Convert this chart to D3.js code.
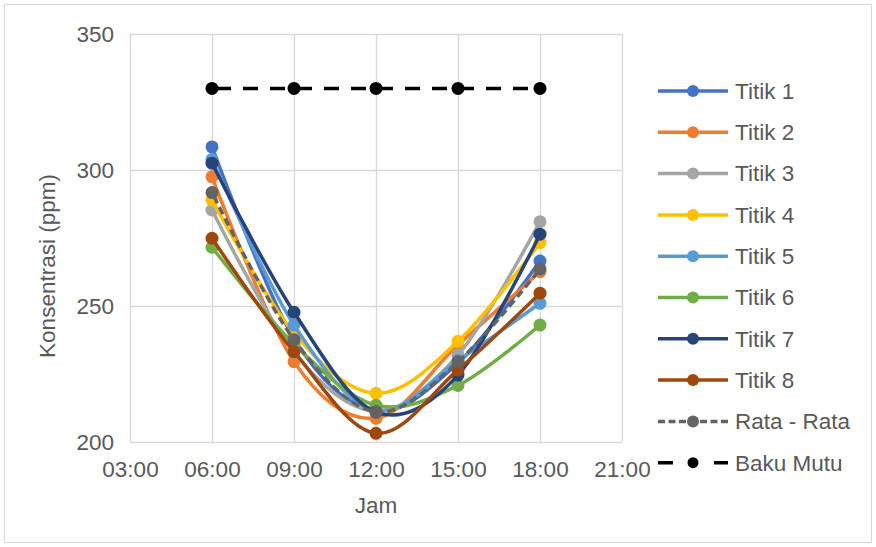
<!DOCTYPE html>
<html>
<head>
<meta charset="utf-8">
<script src="https://cdn.jsdelivr.net/npm/d3@7"></script>
<style>
html,body{margin:0;padding:0;background:#fff;}
svg{display:block;font-family:"Liberation Sans",Arial,sans-serif;}
</style>
</head>
<body>
<svg id="chart" width="876" height="547"></svg>
<script>
// ---- data ----
const hours = [6, 9, 12, 15, 18];
const xTicks = [3, 6, 9, 12, 15, 18, 21];
const xTickLabels = ["03:00", "06:00", "09:00", "12:00", "15:00", "18:00", "21:00"];
const yTicks = [200, 250, 300, 350];
const seriesNames = ["Titik 1", "Titik 2", "Titik 3", "Titik 4", "Titik 5", "Titik 6", "Titik 7", "Titik 8", "Rata - Rata", "Baku Mutu"];
const titik1 = [308.5, 238.0, 211.5, 229.0, 266.5];
const titik2 = [297.5, 229.5, 208.7, 235.7, 262.6];
const titik3 = [285.3, 233.0, 211.5, 232.0, 281.0];
const titik4 = [289.0, 240.0, 217.9, 237.0, 273.3];
const titik5 = [303.9, 243.0, 211.5, 230.0, 251.0];
const titik6 = [271.6, 236.0, 213.5, 220.8, 243.0];
const titik7 = [302.5, 247.7, 211.0, 224.6, 276.4];
const titik8 = [274.9, 233.2, 203.2, 226.5, 254.7];
const rataRata = [291.7, 237.6, 211.1, 229.5, 263.6];
const bakuMutu = [330, 330, 330, 330, 330];
const allValues = [titik1, titik2, titik3, titik4, titik5, titik6, titik7, titik8, rataRata, bakuMutu];

// ---- styles ----
const colors = ["#4472C4", "#ED7D31", "#A5A5A5", "#FFC000", "#5B9BD5", "#70AD47", "#264478", "#9E480E", "#636363", "#000000"];
const dashes = [null, null, null, null, null, null, null, null, "8,4.5", "15,12"];
const smooth = [true, true, true, true, true, true, true, true, true, false];
const textColor = "#595959";
const gridColor = "#d9d9d9";
const fontSize = 22.5;

const svg = d3.select("#chart");
svg.append("rect").attr("x", 4.5).attr("y", 4.5).attr("width", 867).attr("height", 538)
  .attr("fill", "#fff").attr("stroke", gridColor).attr("stroke-width", 1);

const plot = {left: 130, right: 622, top: 34, bottom: 442};
const x = d3.scaleLinear().domain([3, 21]).range([plot.left, plot.right]);
const y = d3.scaleLinear().domain([200, 350]).range([plot.bottom, plot.top]);

// gridlines
const g = svg.append("g");
g.selectAll("line.h").data(yTicks).join("line")
  .attr("x1", plot.left).attr("x2", plot.right)
  .attr("y1", d => Math.round(y(d)) + 0.5).attr("y2", d => Math.round(y(d)) + 0.5)
  .attr("stroke", gridColor).attr("stroke-width", 1.3);
g.selectAll("line.v").data(xTicks).join("line")
  .attr("y1", plot.top).attr("y2", plot.bottom)
  .attr("x1", d => Math.round(x(d)) + 0.5).attr("x2", d => Math.round(x(d)) + 0.5)
  .attr("stroke", gridColor).attr("stroke-width", 1.3);

// axes via d3 axis generators (labels only)
const yAxis = d3.axisLeft(y).tickValues(yTicks).tickSize(0).tickPadding(0);
const yg = svg.append("g").attr("transform", `translate(${plot.left - 16},0)`).call(yAxis);
yg.select(".domain").remove();
yg.selectAll("text").attr("fill", textColor).style("font-size", fontSize + "px")
  .style("font-family", "Liberation Sans, Arial, sans-serif").attr("dy", "0.35em");

const xAxis = d3.axisBottom(x).tickValues(xTicks).tickSize(0).tickPadding(0)
  .tickFormat((d, i) => xTickLabels[i]);
const xg = svg.append("g").attr("transform", `translate(0,${plot.bottom + 19})`).call(xAxis);
xg.select(".domain").remove();
xg.selectAll("text").attr("fill", textColor).style("font-size", fontSize + "px")
  .style("font-family", "Liberation Sans, Arial, sans-serif").attr("dy", "0.71em");

// axis titles
svg.append("text").attr("x", (plot.left + plot.right) / 2).attr("y", 513)
  .attr("text-anchor", "middle").attr("fill", textColor).style("font-size", fontSize + "px").text("Jam");
svg.append("text").attr("transform", `translate(55,266) rotate(-90)`)
  .attr("text-anchor", "middle").attr("fill", textColor).style("font-size", fontSize + "px").text("Konsentrasi (ppm)");

// series
const series = allValues.map((vals, i) => ({
  name: seriesNames[i], color: colors[i], dash: dashes[i], smooth: smooth[i],
  points: hours.map((h, j) => ({h, v: vals[j]}))
}));

const lineSmooth = d3.line().x(d => x(d.h)).y(d => y(d.v)).curve(d3.curveCardinal.tension(0));
const lineStraight = d3.line().x(d => x(d.h)).y(d => y(d.v));

series.forEach(s => {
  const sg = svg.append("g");
  sg.append("path").attr("d", (s.smooth ? lineSmooth : lineStraight)(s.points))
    .attr("fill", "none").attr("stroke", s.color).attr("stroke-width", 3.5)
    .attr("stroke-dasharray", s.dash).attr("stroke-dashoffset", s.dash ? -4 : null)
    .attr("stroke-linejoin", "round");
  sg.selectAll("circle").data(s.points).join("circle")
    .attr("cx", d => x(d.h)).attr("cy", d => y(d.v)).attr("r", 6.5)
    .attr("fill", s.color);
});

// legend
const legY0 = 91, legStep = 41.3;
series.forEach((s, i) => {
  const ly = legY0 + i * legStep;
  const lg = svg.append("g");
  let dash = null;
  if (i === 8) dash = "7,3.5";
  if (i === 9) dash = "15,41";
  lg.append("line").attr("x1", 658).attr("x2", 728).attr("y1", ly).attr("y2", ly)
    .attr("stroke", s.color).attr("stroke-width", 3.5).attr("stroke-dasharray", dash);
  lg.append("circle").attr("cx", 693).attr("cy", ly).attr("r", i === 9 ? 5.5 : 6).attr("fill", s.color);
  lg.append("text").attr("x", 735).attr("y", ly).attr("dy", "0.35em")
    .attr("fill", textColor).style("font-size", fontSize + "px").text(s.name);
});
</script>
</body>
</html>
